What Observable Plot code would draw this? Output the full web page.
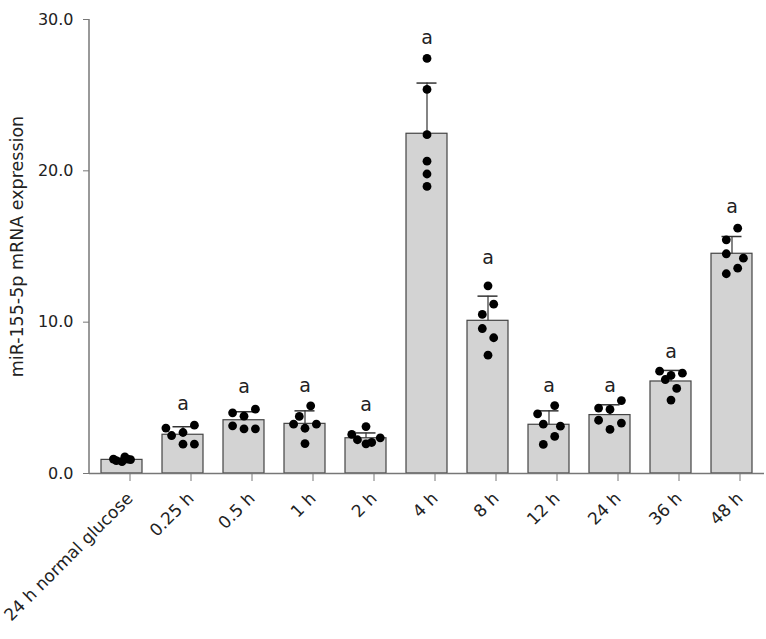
<!DOCTYPE html>
<html>
<head>
<meta charset="utf-8">
<script src="https://cdn.jsdelivr.net/npm/d3@7"></script>
<script src="https://cdn.jsdelivr.net/npm/@observablehq/plot@0.6"></script>
<style>
  html, body { margin: 0; padding: 0; background: #fff; }
  #chart svg { display: block; }
</style>
</head>
<body>
<div id="chart"></div>
<script>
// ---- data ----
const groups = ["24 h normal glucose", "0.25 h", "0.5 h", "1 h", "2 h", "4 h", "8 h", "12 h", "24 h", "36 h", "48 h"];
const means  = [0.9, 2.56, 3.52, 3.28, 2.33, 22.45, 10.09, 3.22, 3.86, 6.08, 14.52];
const sds    = [0.1, 0.53, 0.56, 0.86, 0.35, 3.35, 1.63, 0.92, 0.68, 0.73, 1.14];
const sigLabels = ["", "a", "a", "a", "a", "a", "a", "a", "a", "a", "a"];
const sigLabelY = [null, 4.63, 5.70, 5.77, 4.56, 28.8, 14.23, 5.77, 5.77, 8.06, 17.60];
const dotValues = [
  [0.95, 0.85, 0.78, 1.10, 0.95, 0.92],
  [3.00, 2.51, 2.71, 3.19, 1.94, 1.94],
  [4.01, 3.79, 4.25, 3.15, 2.95, 2.95],
  [4.47, 3.77, 3.26, 2.99, 3.26, 1.98],
  [3.10, 2.58, 2.23, 1.96, 2.05, 2.36],
  [27.43, 25.38, 22.39, 20.64, 19.79, 18.97],
  [12.40, 11.19, 10.51, 9.58, 8.97, 7.82],
  [4.49, 3.94, 3.26, 3.13, 2.45, 1.92],
  [4.82, 4.32, 4.23, 3.52, 3.33, 2.91],
  [6.76, 6.63, 6.48, 6.21, 5.62, 4.85],
  [16.21, 15.44, 14.52, 14.23, 13.57, 13.20]
];
// horizontal jitter slot of each dot (scatter order within its bar)
const dotSlots = [
  [-3, -2, 0, 1, 2, 3],
  [-6, -4, 0, 4, 0, 4],
  [-4, 0, 4, -4, 0, 4],
  [2, -2, -4, 0, 4, 0],
  [0, -5, -3, 0, 2, 5],
  [0, 0, 0, 0, 0, 0],
  [0, 2, -2, -2, 2, 0],
  [2, -4, -2, 4, 2, -2],
  [4, -4, 0, -4, 4, 0],
  [-4, 4, 0, -2, 2, 0],
  [2, -2, -2, 4, 2, -2]
];
const yTicks = [0, 10, 20, 30];
const yTitle = "miR-155-5p mRNA expression";

// ---- tables built from the arrays ----
const table = groups.map((g, i) => ({group: g, mean: means[i], sd: sds[i], label: sigLabels[i], ly: sigLabelY[i]}));
const dots = [];
groups.forEach((g, i) => dotValues[i].forEach((v, j) => dots.push({group: g, value: v, slot: dotSlots[i][j]})));
const slots = Array.from(new Set(dots.map(d => d.slot))).sort((a, b) => a - b);
const slotPx = 2.85;

const font = "DejaVu Sans, Verdana, sans-serif";

const chart = Plot.plot({
  width: 766,
  height: 639,
  marginLeft: 89,
  marginRight: 2,
  marginTop: 19,
  marginBottom: 166,
  style: {fontFamily: font, background: "#fff", color: "#222"},
  x: {domain: groups, paddingInner: 0.32, paddingOuter: 0.15, align: 0.5},
  y: {domain: [0, 30]},
  marks: [
    Plot.barY(table, {x: "group", y: "mean", fill: "#d3d3d3", stroke: "#444", strokeWidth: 1.2}),
    Plot.ruleX(table, {x: "group", y1: "mean", y2: d => d.mean + d.sd, stroke: "#333", strokeWidth: 1.2}),
    Plot.tickY(table, {x: "group", y: d => d.mean + d.sd, stroke: "#333", strokeWidth: 1.5, insetLeft: 10.5, insetRight: 10.5}),
    ...slots.map(s => Plot.dot(dots.filter(d => d.slot === s), {x: "group", y: "value", r: 4.4, fill: "#000", stroke: "none", dx: s * slotPx})),
    Plot.text(table.filter(d => d.label), {x: "group", y: "ly", text: "label", fontSize: 19, fill: "#222", lineAnchor: "middle"}),
    Plot.ruleY([0], {stroke: "#777", strokeWidth: 1.5}),
    Plot.axisY({ticks: yTicks, tickFormat: d => d.toFixed(1), tickSize: 6, tickPadding: 10, stroke: "#777", fill: "#222", fontSize: 16, label: null}),
    Plot.axisX({tickSize: 8, tickPadding: 14, tickRotate: -45, dx: 8, stroke: "#777", fill: "#222", fontSize: 17, label: null}),
    Plot.text([yTitle], {frameAnchor: "left", dx: -72, rotate: -90, textAnchor: "middle", fontSize: 17.5, fill: "#222"})
  ]
});

// y axis line, positioned through the plot's own y scale
const y = chart.scale("y");
d3.select(chart).append("line")
  .attr("x1", 89).attr("x2", 89)
  .attr("y1", y.apply(0)).attr("y2", y.apply(30))
  .attr("stroke", "#777").attr("stroke-width", 1.5);
document.getElementById("chart").appendChild(chart);
</script>
</body>
</html>
